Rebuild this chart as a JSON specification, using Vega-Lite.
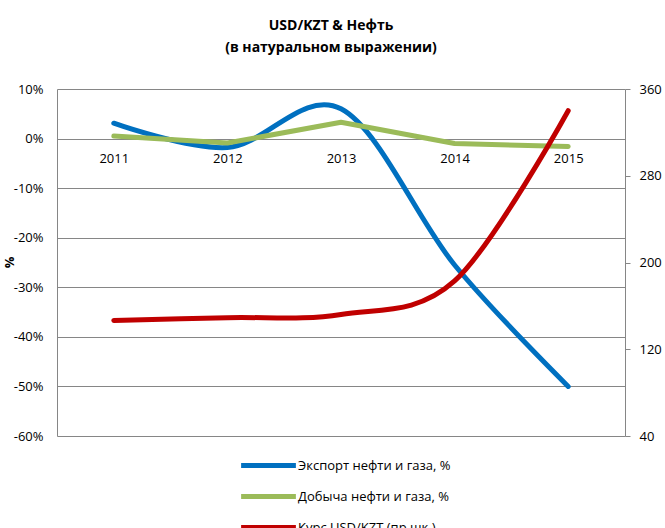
{
  "$schema": "https://vega.github.io/schema/vega-lite/v6.json",
  "width": 568,
  "height": 347,
  "autosize": "none",
  "padding": {"left": 57, "top": 89, "right": 40, "bottom": 92},
  "background": "white",
  "config": {
    "font": "Open Sans",
    "view": {"stroke": null},
    "axis": {"labelFont": "Open Sans", "labelFontSize": 13, "labelColor": "#000000", "titleFont": "Open Sans"}
  },
  "title": {
    "text": ["USD/KZT & Нефть", "(в натуральном выражении)"],
    "anchor": "middle",
    "frame": "group",
    "dx": -10,
    "offset": 28,
    "fontSize": 14,
    "fontWeight": "bold",
    "lineHeight": 22,
    "color": "#000000"
  },
  "data": {
    "values": [
      {"year": "2011", "series": "Экспорт нефти и газа, %", "value": 3.1},
      {"year": "2012", "series": "Экспорт нефти и газа, %", "value": -1.8},
      {"year": "2013", "series": "Экспорт нефти и газа, %", "value": 6.0},
      {"year": "2014", "series": "Экспорт нефти и газа, %", "value": -25.5},
      {"year": "2015", "series": "Экспорт нефти и газа, %", "value": -50},
      {"year": "2011", "series": "Добыча нефти и газа, %", "value": 0.5},
      {"year": "2012", "series": "Добыча нефти и газа, %", "value": -0.9},
      {"year": "2013", "series": "Добыча нефти и газа, %", "value": 3.3},
      {"year": "2014", "series": "Добыча нефти и газа, %", "value": -1.0},
      {"year": "2015", "series": "Добыча нефти и газа, %", "value": -1.6},
      {"year": "2011", "series": "Курс USD/KZT (пр.шк.)", "value": 146.6},
      {"year": "2012", "series": "Курс USD/KZT (пр.шк.)", "value": 149.1},
      {"year": "2013", "series": "Курс USD/KZT (пр.шк.)", "value": 152.1},
      {"year": "2014", "series": "Курс USD/KZT (пр.шк.)", "value": 183},
      {"year": "2015", "series": "Курс USD/KZT (пр.шк.)", "value": 340}
    ]
  },
  "layer": [
    {
      "layer": [
        {
          "transform": [{"filter": "datum.series === 'Экспорт нефти и газа, %'"}],
          "mark": {"type": "line", "interpolate": "cardinal", "strokeWidth": 5, "strokeCap": "round"},
          "encoding": {
            "x": {"field": "year", "type": "ordinal", "scale": {"type": "point", "padding": 0.5},
              "axis": {"title": null, "orient": "bottom", "offset": -297, "domain": false, "ticks": false, "labelPadding": 13, "labelAngle": 0}},
            "y": {"field": "value", "type": "quantitative", "scale": {"domain": [-60, 10], "nice": false, "zero": false},
              "axis": {"title": "%", "titleFontSize": 13, "titleFontWeight": "bold", "titleColor": "#000000", "titleX": -41, "titleY": 173,
                "values": [-60, -50, -40, -30, -20, -10, 0, 10], "labelExpr": "datum.value + '%'",
                "grid": true, "gridColor": "#868686", "gridWidth": 1, "gridOpacity": 1,
                "domain": true, "domainColor": "#868686", "ticks": false, "labelPadding": 14}},
            "color": {"field": "series", "type": "nominal",
              "scale": {"domain": ["Экспорт нефти и газа, %", "Добыча нефти и газа, %", "Курс USD/KZT (пр.шк.)"], "range": ["#0070C0", "#9BBB59", "#C00000"]},
              "legend": {"title": null, "orient": "none", "legendX": 180, "legendY": 370, "direction": "vertical",
                "symbolType": "M-10,0H10", "symbolStrokeWidth": 5, "symbolSize": 30, "symbolOffset": 25,
                "labelFontSize": 13, "labelFont": "Open Sans", "labelColor": "#000000", "rowPadding": 10, "labelOffset": 23}}
          }
        },
        {
          "transform": [{"filter": "datum.series === 'Добыча нефти и газа, %'"}],
          "mark": {"type": "line", "interpolate": "linear", "strokeWidth": 5, "strokeCap": "round", "strokeJoin": "round"},
          "encoding": {
            "x": {"field": "year", "type": "ordinal"},
            "y": {"field": "value", "type": "quantitative"},
            "color": {"field": "series", "type": "nominal"}
          }
        }
      ]
    },
    {
      "transform": [{"filter": "datum.series === 'Курс USD/KZT (пр.шк.)'"}],
      "mark": {"type": "line", "interpolate": "cardinal", "strokeWidth": 5, "strokeCap": "round"},
      "encoding": {
        "x": {"field": "year", "type": "ordinal"},
        "y": {"field": "value", "type": "quantitative", "scale": {"domain": [40, 360], "nice": false, "zero": false},
          "axis": {"title": null, "orient": "right", "values": [40, 120, 200, 280, 360], "grid": false,
            "domain": true, "domainColor": "#868686", "ticks": true, "tickColor": "#868686", "tickSize": 5, "labelPadding": 9}},
        "color": {"field": "series", "type": "nominal"}
      }
    }
  ],
  "resolve": {"scale": {"y": "independent"}}
}
